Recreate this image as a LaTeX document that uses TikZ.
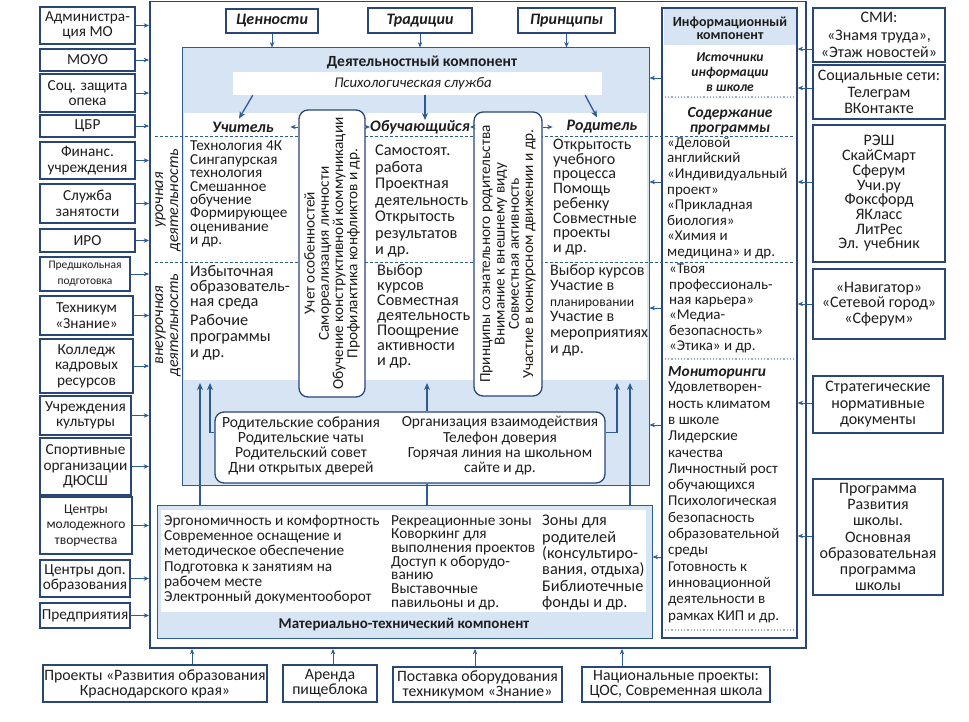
\documentclass[tikz,border=0pt]{standalone}
\usepackage{fontspec}
\setmainfont{Carlito}
\usetikzlibrary{fit,arrows.meta,calc}
\definecolor{dkb}{RGB}{40,70,120}
\definecolor{arb}{RGB}{45,92,148}
\definecolor{lbf}{RGB}{214,228,243}
\definecolor{txc}{RGB}{30,30,30}
\newcommand\fz[2]{\fontsize{#1}{#2}\selectfont}
\tikzset{
  obox/.style={draw=dkb, line width=1.1pt, fill=white, inner sep=0pt},
  lab/.style={inner sep=0pt, align=center, text=txc, font=\fz{14}{14.5}},
  blk/.style={inner sep=0pt, align=left, text=txc, anchor=north west},
  arr/.style={draw=arb, line width=1.3pt, -{Stealth[length=7pt,width=6pt]}},
  sarr/.style={draw=arb, line width=0.9pt, -{Stealth[length=5.5pt,width=4.5pt]}},
  dsh/.style={draw=arb, line width=0.6pt, dash pattern=on 3pt off 2pt},
  dotsep/.style={draw=arb!50, line width=1.2pt, dotted},
  ttl/.style={inner sep=0pt, text=txc, font=\fz{16}{16}\bfseries\itshape},
}
\begin{document}
\begin{tikzpicture}[x=1pt,y=-1pt]
\useasboundingbox[fill=white] (0,0) rectangle (969,722);

% ---------- main frame and components
\node[draw=dkb, line width=1.8pt, inner sep=0pt, fit={(150,1.5)(806,648)}] (frame) {};
\node[draw=arb, line width=1pt, fill=lbf, inner sep=0pt, fit={(182,48)(649,485)}] (act) {};
\node[fill=white, inner sep=0pt, fit={(233,72)(602,95)}] (psych) {};
\node[fill=white, inner sep=0pt, fit={(184,113)(647,380)}] (wt) {};
\node[obox, line width=1.3pt, fit={(662,8)(797,638)}] (inf) {};
\node[fill=lbf, inner sep=0pt, fit={(663.5,9.5)(795.5,45)}] (infh) {};
\node[draw=arb, line width=1pt, fill=lbf, inner sep=0pt, fit={(157,505)(652,638)}] (mat) {};
\node[fill=white, inner sep=0pt, fit={(161,510)(646,612)}] (matw) {};

% dashed row separators
\draw[dsh] (155,136) -- (795,136);
\draw[dsh] (155,262) -- (795,262);
\draw[dotsep] (665,97) -- (794,97);
\draw[dotsep] (665,359) -- (794,359);
\draw[dotsep] (665,630) -- (794,630);

% ---------- top boxes
\node[obox, fit={(226,9)(318,33)}] (t1) {};
\node[ttl] (t1t) at (t1.center) {Ценности};
\node[obox, fit={(368,8)(472,33)}] (t2) {};
\node[ttl] (t2t) at (t2.center) {Традиции};
\node[obox, fit={(518,8)(615,33)}] (t3) {};
\node[ttl] (t3t) at (t3.center) {Принципы};
\draw[sarr] (t1.south) -- (t1.south |- act.north);
\draw[sarr] (t2.south) -- (t2.south |- act.north);
\draw[sarr] (t3.south) -- (t3.south |- act.north);

% ---------- activity component
\node[inner sep=0pt, text=txc, font=\fz{15.5}{15}\bfseries] (actt) at (422,62) {Деятельностный компонент};
\node[inner sep=0pt, text=txc, font=\fz{14.8}{15}\itshape] (psycht) at (413,84) {Психологическая служба};
\node[ttl] (uch) at (243,127) {Учитель};
\node[ttl] (obu) at (420,127) {Обучающийся};
\node[ttl] (rod) at (602,127) {Родитель};
\draw[arr] ([xshift=20pt]psych.south west) -- ([xshift=-4pt,yshift=3pt]uch.north);
\draw[arr] (psych.south -| 425,0) -- (obu.north -| 425,0);
\draw[arr] ([xshift=-17pt]psych.south east) -- ([xshift=-5pt,yshift=3pt]rod.north);

\node[inner sep=0pt, rotate=90, align=center, text=txc, font=\fz{16}{15}\itshape] (lv1) at (168,200) {урочная\\деятельность};
\node[inner sep=0pt, rotate=90, align=center, text=txc, font=\fz{16}{15}\itshape] (lv2) at (168,325) {внеурочная\\деятельность};

% rotated boxes
\node[obox, line width=1.3pt, rounded corners=9pt, fit={(299,110)(365,397)}] (r1) {};
\node[inner sep=0pt, rotate=90, align=center, text=txc, font=\fz{15.3}{14.3}] (r1t) at (r1.center) {Учет особенностей\\Самореализация личности\\Обучение конструктивной коммуникации\\Профилактика конфликтов и др.};
\node[obox, line width=1.3pt, rounded corners=9pt, fit={(474,112)(542,396)}] (r2) {};
\node[inner sep=0pt, rotate=90, align=center, text=txc, font=\fz{15.3}{14.3}] (r2t) at (r2.center) {Принципы сознательного родительства\\Внимание к внешнему виду\\Совместная активность\\Участие в конкурсном движении и др.};
\draw[sarr] (r1.west |- uch.center) -- ([xshift=-8pt]r1.west |- uch.center);
\draw[sarr] (r1.east |- obu.center) -- (obu.west);
\draw[sarr] (r2.west |- obu.center) -- (obu.east);
\draw[sarr] (r2.east |- rod.center) -- ([xshift=10pt]r2.east |- rod.center);

% column texts
\node[blk, font=\fz{15.2}{13.4}] (c11) at (190,141) {Технология 4К\\Сингапурская\\технология\\Смешанное\\обучение\\Формирующее\\оценивание\\и  др.};
\node[blk, font=\fz{16.3}{15}] (c12) at (190,265) {Избыточная\\образователь-\\ная среда};
\node[blk, font=\fz{16.3}{16}] (c13) at (190,314) {Рабочие\\программы\\и др.};
\node[blk, font=\fz{16.3}{16.5}] (c21) at (375,145) {Самостоят.\\работа\\Проектная\\деятельность\\Открытость\\результатов\\и др.};
\node[blk, font=\fz{16.3}{15.1}] (c22) at (377,264) {Выбор\\курсов\\Совместная\\деятельность\\Поощрение\\активности\\и др.};
\node[blk, font=\fz{16}{14.7}] (c31) at (553,139) {Открытость\\учебного\\процесса\\Помощь\\ребенку\\Совместные\\проекты\\и др.};
\node[blk, font=\fz{16}{15.6}] (c32) at (550,264) {Выбор курсов\\Участие в\\{\fz{13.5}{15.6}планировании}\\Участие в\\мероприятиях\\и др.};

% bottom rounded box
\node[obox, line width=1.3pt, rounded corners=9pt, fit={(215,412)(605,483)}] (rb) {};
\node[inner sep=0pt, align=center, text=txc, font=\fz{15.6}{15.3}] (rbl) at (301,446) {Родительские собрания\\Родительские чаты\\Родительский совет\\Дни открытых дверей};
\node[inner sep=0pt, align=center, text=txc, font=\fz{15.4}{15.3}] (rbr) at (500,446) {Организация взаимодействия\\Телефон доверия\\Горячая линия на школьном\\сайте и др.};

\coordinate (a1) at (200,383);
\coordinate (a2) at (630,383);
\coordinate (a3) at (210,383);
\coordinate (a4) at (617,383);
\coordinate (a5) at (427,383);
\draw[arr] (a1 |- mat.north) -- (a1);
\draw[arr] (a2 |- mat.north) -- (a2);
\draw[arr] ([yshift=15pt]rb.west) -| (a3);
\draw[arr] ([yshift=15pt]rb.east) -| (a4);
\draw[arr] (rb.north -| a5) -- (a5);
\draw[draw=arb, line width=1.3pt] (rb.south -| a5) -- (a5 |- mat.north);

% ---------- material component
\node[inner sep=0pt, text=txc, font=\fz{15}{15}\bfseries] (matt) at (404,625) {Материально-технический компонент};
\node[blk, font=\fz{15.3}{15.2}] (m1) at (164,515) {Эргономичность и комфортность\\Современное оснащение и\\методическое обеспечение\\Подготовка к занятиям на\\рабочем месте\\Электронный документооборот};
\node[blk, font=\fz{15.3}{13.7}] (m2) at (391,515) {Рекреационные зоны\\Коворкинг для\\выполнения проектов\\Доступ к оборудо-\\ванию\\Выставочные\\павильоны и др.};
\node[blk, font=\fz{16.3}{16.4}] (m3) at (542,515) {Зоны для\\родителей\\(консультиро-\\вания, отдыха)\\Библиотечные\\фонды и др.};

% ---------- information component
\node[inner sep=0pt, align=center, text=txc, font=\fz{14}{13}\bfseries] (infht) at (730,28) {Информационный\\компонент};
\node[inner sep=0pt, align=center, text=txc, font=\fz{13.5}{15}\bfseries\itshape] (ist) at (730,72) {Источники\\информации\\в школе};
\node[inner sep=0pt, align=center, text=txc, font=\fz{15.4}{15}\bfseries\itshape] (sod) at (730,121) {Содержание\\программы};
\node[blk, font=\fz{15}{15.6}] (i1) at (667,137) {«Деловой\\английский\\«Индивидуальный\\проект»\\«Прикладная\\биология»\\«Химия и\\медицина» и др.};
\node[blk, font=\fz{15}{15.3}] (i2) at (669,264) {«Твоя\\профессиональ-\\ная карьера»\\«Медиа-\\безопасность»\\«Этика» и др.};
\node[blk, font=\fz{15.4}{15}\bfseries\itshape] (mon) at (668,366) {Мониторинги};
\node[blk, font=\fz{15}{16.3}] (i3) at (668,382) {Удовлетворен-\\ность климатом\\в школе\\Лидерские\\качества\\Личностный рост\\обучающихся\\Психологическая\\безопасность\\образовательной\\среды\\Готовность к\\инновационной\\деятельности в\\рамках КИП и др.};

\foreach \yy/\nm in {78/q1,182/q2,308/q3,425/q4}{
  \coordinate (\nm) at (0,\yy);
  \draw[sarr] (inf.west |- \nm) -- (act.east |- \nm);
}
\coordinate (q5) at (0,557);
\draw[sarr] (inf.west |- q5) -- (mat.east |- q5);

% ---------- left boxes
\foreach \nm/\ya/\yb/\xb/\fs/\txt in {
  L1/7/44/135/15.3/{Администра-\\ция МО},
  L2/49/71/135/15.3/{МОУО},
  L3/74/112/135/15.3/{Соц. защита\\опека},
  L4/115/137/135/15.3/{ЦБР},
  L5/142/179/135/15.3/{Финанс.\\учреждения},
  L6/184/223/135/15.3/{Служба\\занятости},
  L7/229/252/135/15.3/{ИРО},
  L8/257/291/130/11.5/{Предшкольная\\подготовка},
  L9/296/335/133/15.3/{Техникум\\«Знание»},
  L10/339/393/133/15.3/{Колледж\\кадровых\\ресурсов},
  L11/396/435/131/15.3/{Учреждения\\культуры},
  L12/438/495/131/15.3/{Спортивные\\организации\\ДЮСШ},
  L13/497/554/132/13.5/{Центры\\молодежного\\творчества},
  L14/560/597/130/15.3/{Центры доп.\\образования},
  L15/603/628/130/15.3/{Предприятия}}{
  \node[obox, fit={(40,\ya)(\xb,\yb)}] (\nm) {};
  \node[lab, font=\fz{\fs}{15.5}] (\nm t) at (\nm.center) {\txt};
  \draw[sarr] (\nm.east) -- (\nm.east -| frame.west);
}

% ---------- right boxes
\foreach \nm/\ya/\yb/\xb/\ay/\bs/\txt in {
  R1/8/62/945/49/17.5/{СМИ:\\«Знамя труда»,\\«Этаж новостей»},
  R2/65/119/945/88/16.5/{Социальные сети:\\Телеграм\\ВКонтакте},
  R3/125/262/945/182/14.7/{РЭШ\\СкайСмарт\\Сферум\\Учи.ру\\Фоксфорд\\ЯКласс\\ЛитРес\\Эл. учебник},
  R4/269/339/945/304/15.5/{«Навигатор»\\«Сетевой город»\\«Сферум»},
  R5/376/433/943/403/16.5/{Стратегические\\нормативные\\документы},
  R6/479/595/943/536/16.2/{Программа\\Развития\\школы.\\Основная\\образовательная\\программа\\школы}}{
  \node[obox, fit={(813,\ya)(\xb,\yb)}] (\nm) {};
  \node[lab, font=\fz{16}{\bs}] (\nm t) at (\nm.center) {\txt};
  \coordinate (\nm a) at (0,\ay);
  \draw[sarr] (\nm.west |- \nm a) -- (inf.east |- \nm a);
}

% ---------- bottom boxes
\foreach \nm/\xa/\xb/\ya/\ax/\txt in {
  B1/43/267/665/192/{Проекты «Развития образования\\Краснодарского края»},
  B2/283/377/665/333/{Аренда\\пищеблока},
  B3/393/562/667/475/{Поставка оборудования\\техникумом «Знание»},
  B4/582/770/667/622/{Национальные проекты:\\ЦОС, Современная школа}}{
  \node[obox, fit={(\xa,\ya)(\xb,702)}] (\nm) {};
  \node[lab, font=\fz{15.8}{15}] (\nm t) at (\nm.center) {\txt};
  \coordinate (\nm a) at (\ax,0);
  \draw[sarr] (\nm.north -| \nm a) -- (frame.south -| \nm a);
}
\end{tikzpicture}
\end{document}
